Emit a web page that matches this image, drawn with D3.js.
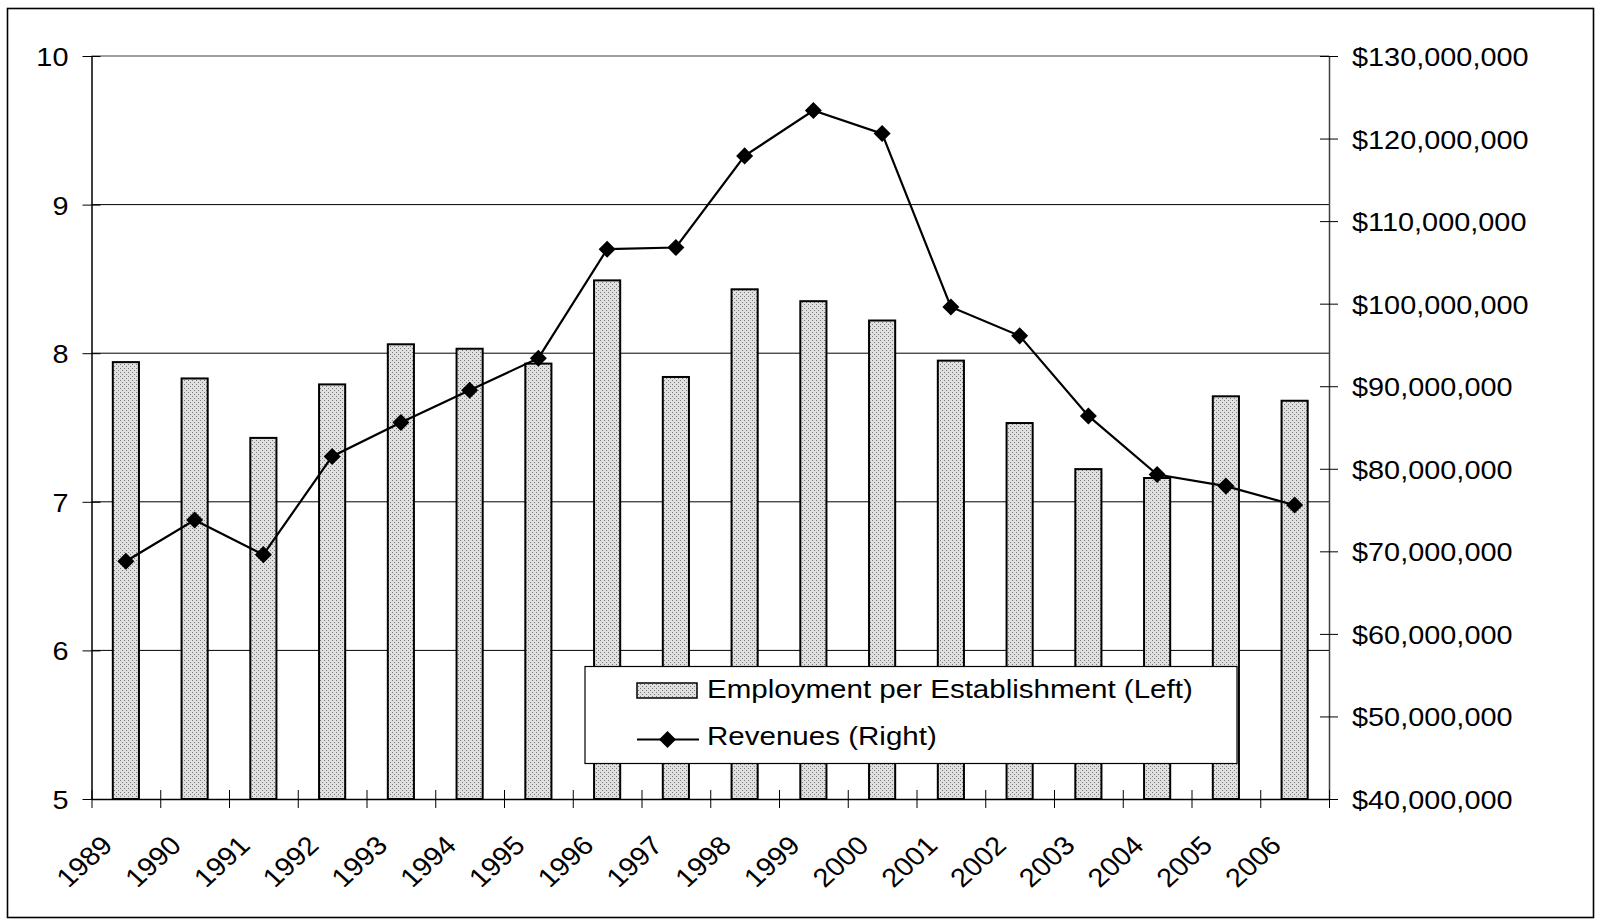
<!DOCTYPE html>
<html>
<head>
<meta charset="utf-8">
<script src="https://cdn.jsdelivr.net/npm/d3@7"></script>
<style>
  html, body { margin: 0; padding: 0; background: #fff; }
  svg { display: block; }
  text { font-family: "Liberation Sans", Arial, sans-serif; fill: #000; }
</style>
</head>
<body>
<svg id="chart" width="1600" height="922"></svg>
<script>
// ---- data ----
const years = ["1989","1990","1991","1992","1993","1994","1995","1996","1997","1998","1999","2000","2001","2002","2003","2004","2005","2006"];
const employment = [7.94, 7.83, 7.43, 7.79, 8.06, 8.03, 7.93, 8.49, 7.84, 8.43, 8.35, 8.22, 7.95, 7.53, 7.22, 7.16, 7.71, 7.68];
const revenues = [68.8e6, 73.8e6, 69.6e6, 81.5e6, 85.6e6, 89.5e6, 93.4e6, 106.6e6, 106.8e6, 117.9e6, 123.4e6, 120.6e6, 99.6e6, 96.1e6, 86.4e6, 79.3e6, 77.9e6, 75.6e6];
const leftTicks = [5, 6, 7, 8, 9, 10];
const rightTicks = [40e6, 50e6, 60e6, 70e6, 80e6, 90e6, 100e6, 110e6, 120e6, 130e6];
const legendLabels = ["Employment per Establishment (Left)", "Revenues (Right)"];

// ---- layout ----
const plot = { left: 91.5, right: 1329, top: 56, bottom: 799 };
const SX = 1.09;           // horizontal stretch of text in the reference
const SXL = 1.115;
const FS = 26.5;

const svg = d3.select("#chart");

// pattern for bars
const defs = svg.append("defs");
const pat = defs.append("pattern").attr("id", "dots")
  .attr("width", 4).attr("height", 4).attr("patternUnits", "userSpaceOnUse");
pat.append("rect").attr("width", 4).attr("height", 4).attr("fill", "#e0e0e0");
pat.append("rect").attr("x", 0).attr("y", 0).attr("width", 1).attr("height", 1).attr("fill", "#7a7a7a");
pat.append("rect").attr("x", 2).attr("y", 2).attr("width", 1).attr("height", 1).attr("fill", "#7a7a7a");

// outer frame
svg.append("rect").attr("x", 7.5).attr("y", 8.5).attr("width", 1586).attr("height", 909)
  .attr("fill", "#fff").attr("stroke", "#000").attr("stroke-width", 1.6);

// scales
const x = d3.scaleBand().domain(years).range([plot.left, plot.right]).padding(0);
const xEdge = d3.scaleLinear().domain([0, years.length]).range([plot.left, plot.right]);
const yL = d3.scaleLinear().domain([5, 10]).range([plot.bottom, plot.top]);
const yR = d3.scaleLinear().domain([40e6, 130e6]).range([plot.bottom, plot.top]);

// gridlines
svg.append("g").selectAll("line").data(leftTicks.filter(d => d > 5 && d < 10)).join("line")
  .attr("x1", plot.left).attr("x2", plot.right)
  .attr("y1", d => yL(d)).attr("y2", d => yL(d))
  .attr("stroke", "#000").attr("stroke-width", 1);
// plot border top (grey)
svg.append("line").attr("x1", plot.left).attr("x2", plot.right)
  .attr("y1", yL(10)).attr("y2", yL(10)).attr("stroke", "#808080").attr("stroke-width", 1.5);

// bars
const barW = x.bandwidth() * 0.38;
svg.append("g").selectAll("rect").data(years).join("rect")
  .attr("x", (d) => x(d) + x.bandwidth() / 2 - barW / 2)
  .attr("width", barW)
  .attr("y", (d, i) => yL(employment[i]))
  .attr("height", (d, i) => yL(5) - yL(employment[i]))
  .attr("fill", "url(#dots)").attr("stroke", "#000").attr("stroke-width", 2);

// line
const line = d3.line().x((d, i) => x(years[i]) + x.bandwidth() / 2).y(d => yR(d));
svg.append("path").datum(revenues).attr("d", line)
  .attr("fill", "none").attr("stroke", "#000").attr("stroke-width", 2.2);
const diamond = d3.symbol().type(d3.symbolDiamond2).size(185);
svg.append("g").selectAll("path").data(revenues).join("path")
  .attr("d", diamond)
  .attr("transform", (d, i) => `translate(${x(years[i]) + x.bandwidth() / 2},${yR(d)})`)
  .attr("fill", "#000");

// left axis
const gL = svg.append("g").attr("transform", `translate(${plot.left},0)`)
  .call(d3.axisLeft(yL).tickValues(leftTicks).tickFormat(d3.format("d")).tickSizeOuter(0));
gL.select(".domain").attr("stroke", "#000").attr("stroke-width", 1.5);
gL.selectAll(".tick line").attr("x1", -9).attr("x2", 9).attr("stroke", "#000");
gL.selectAll(".tick text").attr("x", null).attr("dy", null)
  .attr("font-size", FS).attr("text-anchor", "end").attr("fill", "#000")
  .attr("transform", `translate(-23,9.5) scale(${SX},1)`);

// right axis
const gR = svg.append("g").attr("transform", `translate(${plot.right},0)`)
  .call(d3.axisRight(yR).tickValues(rightTicks).tickFormat(d => "$" + d3.format(",")(d)).tickSizeOuter(0));
gR.select(".domain").attr("stroke", "#404040").attr("stroke-width", 1.5);
gR.selectAll(".tick line").attr("x1", -9).attr("x2", 9).attr("stroke", "#000");
gR.selectAll(".tick text").attr("x", null).attr("dy", null)
  .attr("font-size", FS).attr("text-anchor", "start").attr("fill", "#000")
  .attr("transform", `translate(23,9.5) scale(${SX},1)`);

// bottom axis (ticks at category boundaries, labels at left boundary)
const gB = svg.append("g").attr("transform", `translate(0,${plot.bottom})`)
  .call(d3.axisBottom(xEdge).tickValues(d3.range(years.length + 1))
    .tickFormat(i => years[i] || "").tickSizeOuter(0));
gB.select(".domain").attr("stroke", "#000").attr("stroke-width", 1.5);
gB.selectAll(".tick line").attr("y1", -9).attr("y2", 9).attr("stroke", "#000");
gB.selectAll(".tick text").attr("y", null).attr("dy", null)
  .attr("font-size", FS).attr("text-anchor", "end").attr("fill", "#000")
  .attr("transform", `translate(22,48) scale(${SX},1) rotate(-45)`);

// legend
const lg = svg.append("g");
lg.append("rect").attr("x", 585).attr("y", 666.5).attr("width", 652).attr("height", 97)
  .attr("fill", "#fff").attr("stroke", "#000").attr("stroke-width", 1.2);
lg.append("rect").attr("x", 637).attr("y", 683).attr("width", 60).attr("height", 15)
  .attr("fill", "url(#dots)").attr("stroke", "#000").attr("stroke-width", 1.5);
lg.append("line").attr("x1", 637).attr("x2", 699).attr("y1", 739.5).attr("y2", 739.5)
  .attr("stroke", "#000").attr("stroke-width", 2.2);
lg.append("path").attr("d", diamond).attr("transform", "translate(667.5,739.5)").attr("fill", "#000");
lg.selectAll("text.lab").data(legendLabels).join("text").attr("class", "lab")
  .attr("font-size", FS)
  .attr("transform", (d, i) => `translate(707,${698 + i * 47}) scale(${SXL},1)`)
  .text(d => d);
</script>
</body>
</html>
